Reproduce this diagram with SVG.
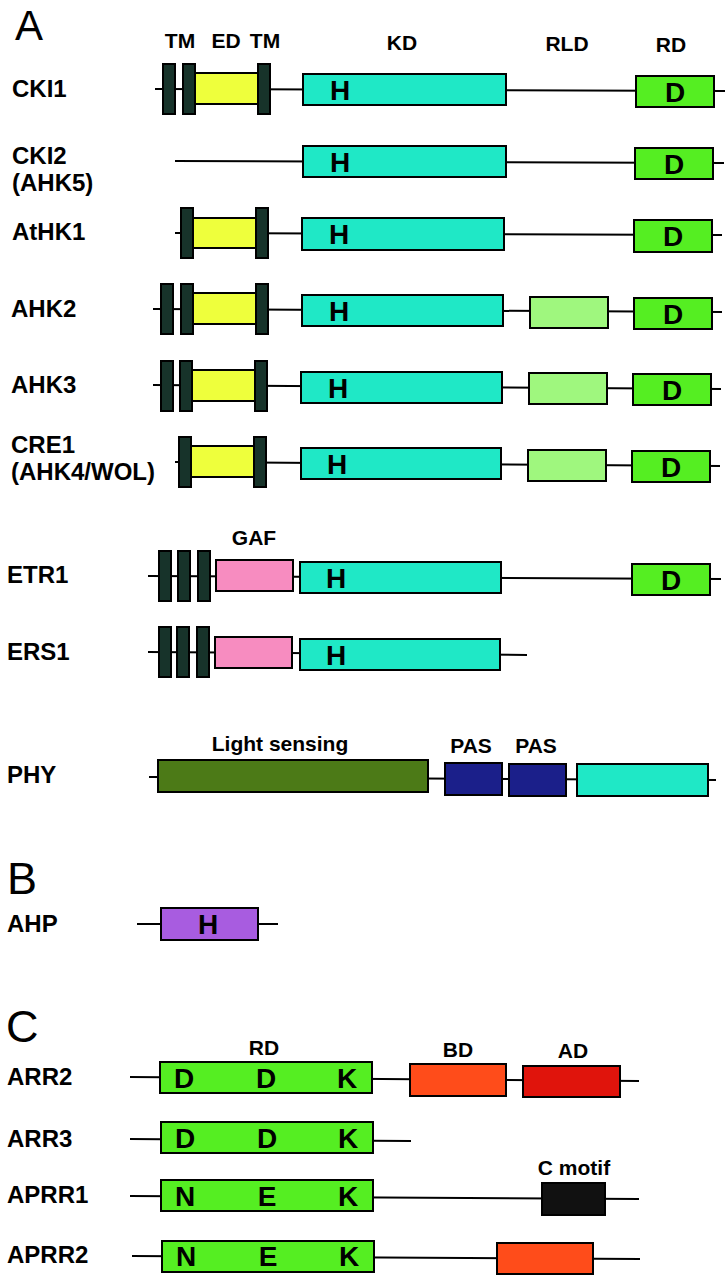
<svg xmlns="http://www.w3.org/2000/svg" width="728" height="1280" viewBox="0 0 728 1280">
<style>
text{font-family:"Liberation Sans",Arial,sans-serif;fill:#000}
.sec{font-size:45px;font-weight:normal}
.lab{font-size:24px;font-weight:bold}
.hdr{font-size:21px;font-weight:bold;text-anchor:middle}
.res{font-size:28px;font-weight:bold;text-anchor:middle}
rect{stroke:#000;stroke-width:2}
.tm{fill:#17332a}
.ed{fill:#eeff3c}
.kd{fill:#1fe8c6}
.rd{fill:#55ee22}
.rld{fill:#9ff77e}
.gaf{fill:#f78cc0}
.lsd{fill:#4c7a17}
.pas{fill:#1b1f8a}
.hpt{fill:#a85ce0}
.bd{fill:#ff4c1a}
.ad{fill:#e0140c}
.cm{fill:#111}
.bb{stroke:#000;stroke-width:2;fill:none}
</style>
<text class="sec" x="15" y="40" style="font-size:42px">A</text>
<text class="sec" x="7" y="894">B</text>
<text class="sec" x="6" y="1042">C</text>
<g id="header-A">
<text class="hdr" x="180" y="48">TM</text>
<text class="hdr" x="226" y="48">ED</text>
<text class="hdr" x="265" y="48">TM</text>
<text class="hdr" x="402" y="50">KD</text>
<text class="hdr" x="567" y="51">RLD</text>
<text class="hdr" x="671" y="52">RD</text>
</g>
<g id="connectors">
<line class="bb" x1="155" y1="89" x2="725" y2="91"/>
<line class="bb" x1="175" y1="161" x2="724" y2="163"/>
<line class="bb" x1="175" y1="233" x2="722" y2="235"/>
<line class="bb" x1="153" y1="309" x2="722" y2="312"/>
<line class="bb" x1="153" y1="385" x2="721" y2="389"/>
<line class="bb" x1="175" y1="462" x2="720" y2="466"/>
<line class="bb" x1="148" y1="576" x2="721" y2="579"/>
<line class="bb" x1="148" y1="652" x2="527" y2="655"/>
<line class="bb" x1="149" y1="777" x2="716" y2="780"/>
<line class="bb" x1="137" y1="924" x2="278" y2="924"/>
<line class="bb" x1="130" y1="1077" x2="639" y2="1081"/>
<line class="bb" x1="130" y1="1139" x2="411" y2="1141"/>
<line class="bb" x1="130" y1="1196" x2="639" y2="1199"/>
<line class="bb" x1="132" y1="1256" x2="640" y2="1259"/>
</g>
<g id="CKI1">
<text class="lab" x="12" y="97">CKI1</text>
<rect class="tm" x="163" y="64" width="12" height="50"/>
<rect class="tm" x="183" y="64" width="12" height="50"/>
<rect class="ed" x="195" y="73" width="63" height="31"/>
<rect class="tm" x="258" y="64" width="12" height="50"/>
<rect class="kd" x="303" y="74" width="203" height="31"/>
<text class="res" x="340" y="100">H</text>
<rect class="rd" x="636" y="76" width="78" height="31"/>
<text class="res" x="675" y="102">D</text>
</g>
<g id="CKI2">
<text class="lab" x="12" y="164">CKI2</text>
<text class="lab" x="12" y="191">(AHK5)</text>
<rect class="kd" x="303" y="146" width="203" height="31"/>
<text class="res" x="340" y="172">H</text>
<rect class="rd" x="635" y="148" width="78" height="31"/>
<text class="res" x="674" y="174">D</text>
</g>
<g id="AtHK1">
<text class="lab" x="12" y="240">AtHK1</text>
<rect class="tm" x="181" y="208" width="12" height="50"/>
<rect class="ed" x="193" y="218" width="63" height="30"/>
<rect class="tm" x="256" y="208" width="12" height="50"/>
<rect class="kd" x="302" y="218" width="202" height="32"/>
<text class="res" x="339" y="244">H</text>
<rect class="rd" x="634" y="220" width="78" height="32"/>
<text class="res" x="673" y="246">D</text>
</g>
<g id="AHK2">
<text class="lab" x="11" y="317">AHK2</text>
<rect class="tm" x="161" y="284" width="12" height="50"/>
<rect class="tm" x="181" y="284" width="12" height="50"/>
<rect class="ed" x="193" y="293" width="63" height="31"/>
<rect class="tm" x="256" y="284" width="12" height="50"/>
<rect class="kd" x="302" y="295" width="201" height="31"/>
<text class="res" x="339" y="321">H</text>
<rect class="rld" x="530" y="297" width="78" height="31"/>
<rect class="rd" x="634" y="298" width="78" height="31"/>
<text class="res" x="673" y="324">D</text>
</g>
<g id="AHK3">
<text class="lab" x="11" y="393">AHK3</text>
<rect class="tm" x="161" y="361" width="12" height="50"/>
<rect class="tm" x="180" y="361" width="12" height="50"/>
<rect class="ed" x="192" y="370" width="63" height="31"/>
<rect class="tm" x="255" y="361" width="12" height="50"/>
<rect class="kd" x="301" y="372" width="201" height="31"/>
<text class="res" x="338" y="398">H</text>
<rect class="rld" x="529" y="373" width="78" height="31"/>
<rect class="rd" x="633" y="374" width="78" height="31"/>
<text class="res" x="672" y="400">D</text>
</g>
<g id="CRE1">
<text class="lab" x="11" y="453">CRE1</text>
<text class="lab" x="11" y="480">(AHK4/WOL)</text>
<rect class="tm" x="179" y="437" width="12" height="50"/>
<rect class="ed" x="191" y="446" width="63" height="31"/>
<rect class="tm" x="254" y="437" width="12" height="50"/>
<rect class="kd" x="301" y="448" width="200" height="31"/>
<text class="res" x="337" y="474">H</text>
<rect class="rld" x="528" y="450" width="78" height="31"/>
<rect class="rd" x="632" y="451" width="78" height="31"/>
<text class="res" x="671" y="477">D</text>
</g>
<g id="ETR1">
<text class="hdr" x="254" y="545">GAF</text>
<text class="lab" x="7" y="583">ETR1</text>
<rect class="tm" x="159" y="551" width="12" height="50"/>
<rect class="tm" x="178" y="551" width="12" height="50"/>
<rect class="tm" x="198" y="551" width="12" height="50"/>
<rect class="gaf" x="216" y="560" width="77" height="31"/>
<rect class="kd" x="300" y="562" width="201" height="31"/>
<text class="res" x="336" y="588">H</text>
<rect class="rd" x="632" y="564" width="78" height="31"/>
<text class="res" x="671" y="590">D</text>
</g>
<g id="ERS1">
<text class="lab" x="7" y="660">ERS1</text>
<rect class="tm" x="159" y="627" width="12" height="50"/>
<rect class="tm" x="177" y="627" width="12" height="50"/>
<rect class="tm" x="197" y="627" width="12" height="50"/>
<rect class="gaf" x="215" y="637" width="77" height="31"/>
<rect class="kd" x="300" y="639" width="200" height="31"/>
<text class="res" x="336" y="665">H</text>
</g>
<g id="PHY">
<text class="hdr" x="280" y="751">Light sensing</text>
<text class="hdr" x="471" y="753">PAS</text>
<text class="hdr" x="536" y="753">PAS</text>
<text class="lab" x="7" y="783">PHY</text>
<rect class="lsd" x="158" y="760" width="270" height="32"/>
<rect class="pas" x="445" y="763" width="57" height="32"/>
<rect class="pas" x="509" y="764" width="57" height="32"/>
<rect class="kd" x="577" y="764" width="131" height="32"/>
</g>
<g id="AHP">
<text class="lab" x="7" y="932">AHP</text>
<rect class="hpt" x="161" y="908" width="97" height="32"/>
<text class="res" x="208" y="934">H</text>
</g>
<g id="ARR2">
<text class="hdr" x="264" y="1055">RD</text>
<text class="hdr" x="458" y="1057">BD</text>
<text class="hdr" x="573" y="1058">AD</text>
<text class="lab" x="7" y="1085">ARR2</text>
<rect class="rd" x="160" y="1062" width="212" height="31"/>
<text class="res" x="184" y="1088">D</text>
<text class="res" x="266" y="1088">D</text>
<text class="res" x="347" y="1088">K</text>
<rect class="bd" x="410" y="1064" width="96" height="32"/>
<rect class="ad" x="523" y="1066" width="97" height="31"/>
</g>
<g id="ARR3">
<text class="lab" x="7" y="1147">ARR3</text>
<rect class="rd" x="161" y="1122" width="212" height="31"/>
<text class="res" x="185" y="1148">D</text>
<text class="res" x="267" y="1148">D</text>
<text class="res" x="348" y="1148">K</text>
</g>
<g id="APRR1">
<text class="hdr" x="574" y="1175">C motif</text>
<text class="lab" x="7" y="1203">APRR1</text>
<rect class="rd" x="161" y="1180" width="212" height="31"/>
<text class="res" x="185" y="1206">N</text>
<text class="res" x="267" y="1206">E</text>
<text class="res" x="348" y="1206">K</text>
<rect class="cm" x="542" y="1183" width="63" height="32"/>
</g>
<g id="APRR2">
<text class="lab" x="7" y="1263">APRR2</text>
<rect class="rd" x="162" y="1241" width="212" height="31"/>
<text class="res" x="186" y="1266">N</text>
<text class="res" x="268" y="1266">E</text>
<text class="res" x="349" y="1266">K</text>
<rect class="bd" x="497" y="1243" width="96" height="31"/>
</g>
</svg>
